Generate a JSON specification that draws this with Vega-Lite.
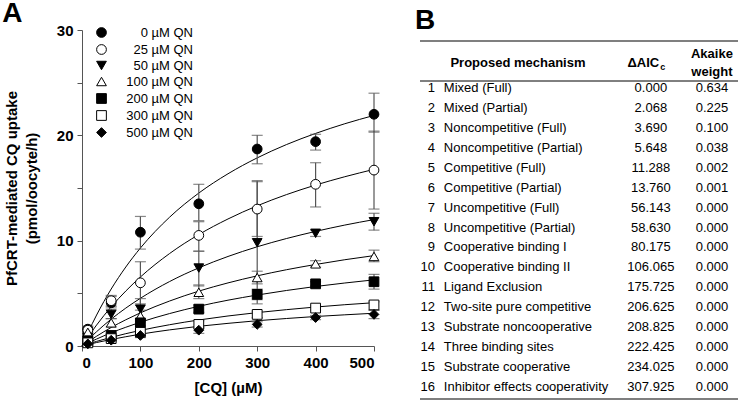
{
  "$schema": "https://vega.github.io/schema/vega-lite/v6.json",
  "padding": {"left": 2, "top": 0, "right": 0, "bottom": 0},
  "spacing": 34,
  "datasets": {
    "pts": [
      {"x": 10, "qn": "0 µM QN", "y": 1.6, "lo": 1.3, "hi": 1.9},
      {"x": 50, "qn": "0 µM QN", "y": 4.1, "lo": 3.7, "hi": 4.7},
      {"x": 100, "qn": "0 µM QN", "y": 10.8, "lo": 9.2, "hi": 12.3},
      {"x": 200, "qn": "0 µM QN", "y": 13.5, "lo": 11.9, "hi": 15.35},
      {"x": 300, "qn": "0 µM QN", "y": 18.7, "lo": 17.3, "hi": 20.0},
      {"x": 400, "qn": "0 µM QN", "y": 19.4, "lo": 18.6, "hi": 20.1},
      {"x": 500, "qn": "0 µM QN", "y": 22.0, "lo": 20.3, "hi": 24.0},
      {"x": 10, "qn": "25 µM QN", "y": 1.5, "lo": 1.2, "hi": 1.8},
      {"x": 50, "qn": "25 µM QN", "y": 4.3, "lo": 3.8, "hi": 4.8},
      {"x": 100, "qn": "25 µM QN", "y": 6.0, "lo": 4.0, "hi": 8.0},
      {"x": 200, "qn": "25 µM QN", "y": 10.5, "lo": 9.0, "hi": 11.8},
      {"x": 300, "qn": "25 µM QN", "y": 13.0, "lo": 10.4, "hi": 15.6},
      {"x": 400, "qn": "25 µM QN", "y": 15.35, "lo": 13.2, "hi": 17.4},
      {"x": 500, "qn": "25 µM QN", "y": 16.7, "lo": 13.0, "hi": 20.4},
      {"x": 10, "qn": "50 µM QN", "y": 0.8, "lo": 0.6, "hi": 1.0},
      {"x": 50, "qn": "50 µM QN", "y": 3.0, "lo": 2.6, "hi": 3.5},
      {"x": 100, "qn": "50 µM QN", "y": 3.5, "lo": 2.6, "hi": 4.5},
      {"x": 200, "qn": "50 µM QN", "y": 7.4, "lo": 5.7, "hi": 9.0},
      {"x": 300, "qn": "50 µM QN", "y": 9.8, "lo": 4.0, "hi": 15.7},
      {"x": 400, "qn": "50 µM QN", "y": 10.7, "lo": 10.4, "hi": 11.0},
      {"x": 500, "qn": "50 µM QN", "y": 11.8, "lo": 11.0, "hi": 12.6},
      {"x": 10, "qn": "100 µM QN", "y": 1.3, "lo": 1.1, "hi": 1.5},
      {"x": 50, "qn": "100 µM QN", "y": 2.2, "lo": 1.8, "hi": 2.6},
      {"x": 100, "qn": "100 µM QN", "y": 2.85, "lo": 2.3, "hi": 3.4},
      {"x": 200, "qn": "100 µM QN", "y": 5.1, "lo": 4.5, "hi": 5.8},
      {"x": 300, "qn": "100 µM QN", "y": 6.5, "lo": 5.9, "hi": 7.1},
      {"x": 400, "qn": "100 µM QN", "y": 7.8, "lo": 7.5, "hi": 8.1},
      {"x": 500, "qn": "100 µM QN", "y": 8.5, "lo": 8.0, "hi": 9.1},
      {"x": 10, "qn": "200 µM QN", "y": 0.5, "lo": 0.4, "hi": 0.6},
      {"x": 50, "qn": "200 µM QN", "y": 1.0, "lo": 0.8, "hi": 1.2},
      {"x": 100, "qn": "200 µM QN", "y": 2.2, "lo": 1.9, "hi": 2.5},
      {"x": 200, "qn": "200 µM QN", "y": 3.5, "lo": 3.2, "hi": 3.9},
      {"x": 300, "qn": "200 µM QN", "y": 4.9, "lo": 4.4, "hi": 5.4},
      {"x": 400, "qn": "200 µM QN", "y": 5.9, "lo": 5.7, "hi": 6.1},
      {"x": 500, "qn": "200 µM QN", "y": 6.1, "lo": 5.4, "hi": 6.8},
      {"x": 10, "qn": "300 µM QN", "y": 0.3, "lo": 0.2, "hi": 0.4},
      {"x": 50, "qn": "300 µM QN", "y": 0.7, "lo": 0.5, "hi": 0.9},
      {"x": 100, "qn": "300 µM QN", "y": 1.3, "lo": 1.1, "hi": 1.5},
      {"x": 200, "qn": "300 µM QN", "y": 2.05, "lo": 1.7, "hi": 2.4},
      {"x": 300, "qn": "300 µM QN", "y": 3.0, "lo": 2.7, "hi": 3.3},
      {"x": 400, "qn": "300 µM QN", "y": 3.6, "lo": 3.4, "hi": 3.8},
      {"x": 500, "qn": "300 µM QN", "y": 3.9, "lo": 3.4, "hi": 4.2},
      {"x": 10, "qn": "500 µM QN", "y": 0.2, "lo": 0.1, "hi": 0.3},
      {"x": 50, "qn": "500 µM QN", "y": 0.55, "lo": 0.4, "hi": 0.7},
      {"x": 100, "qn": "500 µM QN", "y": 1.0, "lo": 0.8, "hi": 1.2},
      {"x": 200, "qn": "500 µM QN", "y": 1.5, "lo": 1.2, "hi": 1.8},
      {"x": 300, "qn": "500 µM QN", "y": 2.05, "lo": 1.8, "hi": 2.3},
      {"x": 400, "qn": "500 µM QN", "y": 2.7, "lo": 2.5, "hi": 2.9},
      {"x": 500, "qn": "500 µM QN", "y": 3.0, "lo": 2.6, "hi": 3.4}
    ],
    "fit": [
      {"x": 0, "qn": "0 µM QN", "y": 0}, {"x": 10, "qn": "0 µM QN", "y": 1.24}, {"x": 25, "qn": "0 µM QN", "y": 2.94},
      {"x": 50, "qn": "0 µM QN", "y": 5.41}, {"x": 75, "qn": "0 µM QN", "y": 7.5}, {"x": 100, "qn": "0 µM QN", "y": 9.3},
      {"x": 150, "qn": "0 µM QN", "y": 12.23}, {"x": 200, "qn": "0 µM QN", "y": 14.52}, {"x": 250, "qn": "0 µM QN", "y": 16.35},
      {"x": 300, "qn": "0 µM QN", "y": 17.86}, {"x": 350, "qn": "0 µM QN", "y": 19.12}, {"x": 400, "qn": "0 µM QN", "y": 20.18},
      {"x": 450, "qn": "0 µM QN", "y": 21.1}, {"x": 500, "qn": "0 µM QN", "y": 21.89},
      {"x": 0, "qn": "25 µM QN", "y": 0}, {"x": 10, "qn": "25 µM QN", "y": 0.83}, {"x": 25, "qn": "25 µM QN", "y": 1.99},
      {"x": 50, "qn": "25 µM QN", "y": 3.72}, {"x": 75, "qn": "25 µM QN", "y": 5.22}, {"x": 100, "qn": "25 µM QN", "y": 6.55},
      {"x": 150, "qn": "25 µM QN", "y": 8.78}, {"x": 200, "qn": "25 µM QN", "y": 10.58}, {"x": 250, "qn": "25 µM QN", "y": 12.06},
      {"x": 300, "qn": "25 µM QN", "y": 13.31}, {"x": 350, "qn": "25 µM QN", "y": 14.37}, {"x": 400, "qn": "25 µM QN", "y": 15.28},
      {"x": 450, "qn": "25 µM QN", "y": 16.07}, {"x": 500, "qn": "25 µM QN", "y": 16.77},
      {"x": 0, "qn": "50 µM QN", "y": 0}, {"x": 10, "qn": "50 µM QN", "y": 0.57}, {"x": 25, "qn": "50 µM QN", "y": 1.36},
      {"x": 50, "qn": "50 µM QN", "y": 2.55}, {"x": 75, "qn": "50 µM QN", "y": 3.6}, {"x": 100, "qn": "50 µM QN", "y": 4.53},
      {"x": 150, "qn": "50 µM QN", "y": 6.12}, {"x": 200, "qn": "50 µM QN", "y": 7.42}, {"x": 250, "qn": "50 µM QN", "y": 8.5},
      {"x": 300, "qn": "50 µM QN", "y": 9.42}, {"x": 350, "qn": "50 µM QN", "y": 10.2}, {"x": 400, "qn": "50 µM QN", "y": 10.88},
      {"x": 450, "qn": "50 µM QN", "y": 11.48}, {"x": 500, "qn": "50 µM QN", "y": 12.0},
      {"x": 0, "qn": "100 µM QN", "y": 0}, {"x": 10, "qn": "100 µM QN", "y": 0.39}, {"x": 25, "qn": "100 µM QN", "y": 0.93},
      {"x": 50, "qn": "100 µM QN", "y": 1.76}, {"x": 75, "qn": "100 µM QN", "y": 2.49}, {"x": 100, "qn": "100 µM QN", "y": 3.15},
      {"x": 150, "qn": "100 µM QN", "y": 4.27}, {"x": 200, "qn": "100 µM QN", "y": 5.21}, {"x": 250, "qn": "100 µM QN", "y": 5.99},
      {"x": 300, "qn": "100 µM QN", "y": 6.66}, {"x": 350, "qn": "100 µM QN", "y": 7.24}, {"x": 400, "qn": "100 µM QN", "y": 7.74},
      {"x": 450, "qn": "100 µM QN", "y": 8.19}, {"x": 500, "qn": "100 µM QN", "y": 8.58},
      {"x": 0, "qn": "200 µM QN", "y": 0}, {"x": 10, "qn": "200 µM QN", "y": 0.28}, {"x": 25, "qn": "200 µM QN", "y": 0.66},
      {"x": 50, "qn": "200 µM QN", "y": 1.26}, {"x": 75, "qn": "200 µM QN", "y": 1.78}, {"x": 100, "qn": "200 µM QN", "y": 2.26},
      {"x": 150, "qn": "200 µM QN", "y": 3.08}, {"x": 200, "qn": "200 µM QN", "y": 3.77}, {"x": 250, "qn": "200 µM QN", "y": 4.35},
      {"x": 300, "qn": "200 µM QN", "y": 4.84}, {"x": 350, "qn": "200 µM QN", "y": 5.27}, {"x": 400, "qn": "200 µM QN", "y": 5.65},
      {"x": 450, "qn": "200 µM QN", "y": 5.98}, {"x": 500, "qn": "200 µM QN", "y": 6.28},
      {"x": 0, "qn": "300 µM QN", "y": 0}, {"x": 10, "qn": "300 µM QN", "y": 0.18}, {"x": 25, "qn": "300 µM QN", "y": 0.44},
      {"x": 50, "qn": "300 µM QN", "y": 0.82}, {"x": 75, "qn": "300 µM QN", "y": 1.17}, {"x": 100, "qn": "300 µM QN", "y": 1.48},
      {"x": 150, "qn": "300 µM QN", "y": 2.02}, {"x": 200, "qn": "300 µM QN", "y": 2.47}, {"x": 250, "qn": "300 µM QN", "y": 2.85},
      {"x": 300, "qn": "300 µM QN", "y": 3.17}, {"x": 350, "qn": "300 µM QN", "y": 3.45}, {"x": 400, "qn": "300 µM QN", "y": 3.7},
      {"x": 450, "qn": "300 µM QN", "y": 3.92}, {"x": 500, "qn": "300 µM QN", "y": 4.11},
      {"x": 0, "qn": "500 µM QN", "y": 0}, {"x": 10, "qn": "500 µM QN", "y": 0.14}, {"x": 25, "qn": "500 µM QN", "y": 0.33},
      {"x": 50, "qn": "500 µM QN", "y": 0.62}, {"x": 75, "qn": "500 µM QN", "y": 0.88}, {"x": 100, "qn": "500 µM QN", "y": 1.12},
      {"x": 150, "qn": "500 µM QN", "y": 1.53}, {"x": 200, "qn": "500 µM QN", "y": 1.87}, {"x": 250, "qn": "500 µM QN", "y": 2.15},
      {"x": 300, "qn": "500 µM QN", "y": 2.4}, {"x": 350, "qn": "500 µM QN", "y": 2.61}, {"x": 400, "qn": "500 µM QN", "y": 2.8},
      {"x": 450, "qn": "500 µM QN", "y": 2.96}, {"x": 500, "qn": "500 µM QN", "y": 3.11}
    ],
    "tab": [
      {"n": 1, "mech": "Mixed (Full)", "daic": 0.0, "w": 0.634},
      {"n": 2, "mech": "Mixed (Partial)", "daic": 2.068, "w": 0.225},
      {"n": 3, "mech": "Noncompetitive (Full)", "daic": 3.69, "w": 0.1},
      {"n": 4, "mech": "Noncompetitive (Partial)", "daic": 5.648, "w": 0.038},
      {"n": 5, "mech": "Competitive (Full)", "daic": 11.288, "w": 0.002},
      {"n": 6, "mech": "Competitive (Partial)", "daic": 13.76, "w": 0.001},
      {"n": 7, "mech": "Uncompetitive (Full)", "daic": 56.143, "w": 0.0},
      {"n": 8, "mech": "Uncompetitive (Partial)", "daic": 58.63, "w": 0.0},
      {"n": 9, "mech": "Cooperative binding I", "daic": 80.175, "w": 0.0},
      {"n": 10, "mech": "Cooperative binding II", "daic": 106.065, "w": 0.0},
      {"n": 11, "mech": "Ligand Exclusion", "daic": 175.725, "w": 0.0},
      {"n": 12, "mech": "Two-site pure competitive", "daic": 206.625, "w": 0.0},
      {"n": 13, "mech": "Substrate noncooperative", "daic": 208.825, "w": 0.0},
      {"n": 14, "mech": "Three binding sites", "daic": 222.425, "w": 0.0},
      {"n": 15, "mech": "Substrate cooperative", "daic": 234.025, "w": 0.0},
      {"n": 16, "mech": "Inhibitor effects cooperativity", "daic": 307.925, "w": 0.0}
    ]
  },
  "hconcat": [
    {
      "width": 292,
      "height": 316,
      "title": {"text": "A", "anchor": "start", "frame": "bounds", "fontSize": 28, "fontWeight": "bold", "offset": -5, "dx": -2},
      "layer": [
        {
          "data": {"name": "fit"},
          "mark": {"type": "line", "color": "black", "strokeWidth": 1, "interpolate": "monotone"},
          "encoding": {
            "x": {"field": "x", "type": "quantitative"},
            "y": {"field": "y", "type": "quantitative"},
            "detail": {"field": "qn"}
          }
        },
        {
          "data": {"name": "pts"},
          "mark": {"type": "rule", "color": "#555", "strokeWidth": 1.2},
          "encoding": {
            "x": {"field": "x", "type": "quantitative"},
            "y": {"field": "lo", "type": "quantitative"},
            "y2": {"field": "hi"}
          }
        },
        {
          "data": {"name": "pts"},
          "mark": {"type": "tick", "orient": "horizontal", "color": "#555", "size": 11, "thickness": 1.2},
          "encoding": {
            "x": {"field": "x", "type": "quantitative"},
            "y": {"field": "lo", "type": "quantitative"}
          }
        },
        {
          "data": {"name": "pts"},
          "mark": {"type": "tick", "orient": "horizontal", "color": "#555", "size": 11, "thickness": 1.2},
          "encoding": {
            "x": {"field": "x", "type": "quantitative"},
            "y": {"field": "hi", "type": "quantitative"}
          }
        },
        {
          "data": {"name": "pts"},
          "mark": {"type": "point", "filled": true, "strokeWidth": 1, "size": 95, "opacity": 1},
          "encoding": {
            "x": {
              "field": "x", "type": "quantitative",
              "scale": {"domain": [0, 500], "nice": false},
              "axis": {"title": "[CQ] (µM)", "values": [0, 50, 100, 150, 200, 250, 300, 350, 400, 450, 500], "labelExpr": "datum.value % 100 == 0 ? datum.label : ''", "titlePadding": 10}
            },
            "y": {
              "field": "y", "type": "quantitative",
              "scale": {"domain": [0, 30], "nice": false},
              "axis": {"title": ["PfCRT-mediated CQ uptake", "(pmol/oocyte/h)"], "values": [0, 5, 10, 15, 20, 25, 30], "labelExpr": "datum.value % 10 == 0 ? datum.label : ''", "titlePadding": 17, "titleLineHeight": 20}
            },
            "shape": {
              "field": "qn", "type": "nominal",
              "scale": {"domain": ["0 µM QN", "25 µM QN", "50 µM QN", "100 µM QN", "200 µM QN", "300 µM QN", "500 µM QN"], "range": ["circle", "circle", "triangle-down", "triangle-up", "square", "square", "diamond"]},
              "legend": {"title": null, "orient": "none", "legendX": 13, "legendY": -4, "labelAlign": "right"}
            },
            "fill": {
              "field": "qn", "type": "nominal",
              "scale": {"domain": ["0 µM QN", "25 µM QN", "50 µM QN", "100 µM QN", "200 µM QN", "300 µM QN", "500 µM QN"], "range": ["black", "white", "black", "white", "black", "white", "black"]}
            },
            "stroke": {
              "field": "qn", "type": "nominal",
              "scale": {"domain": ["0 µM QN", "25 µM QN", "50 µM QN", "100 µM QN", "200 µM QN", "300 µM QN", "500 µM QN"], "range": ["black", "black", "black", "black", "black", "black", "black"]}
            }
          }
        }
      ]
    },
    {
      "width": 318,
      "height": 372,
      "title": {"text": "B", "anchor": "start", "frame": "group", "fontSize": 28, "fontWeight": "bold", "offset": -5, "dx": -5},
      "layer": [
        {
          "data": {"values": [{}]},
          "mark": {"type": "rule", "color": "#555", "strokeWidth": 1.6},
          "encoding": {
            "x": {"datum": 0, "type": "quantitative", "scale": {"domain": [0, 100]}, "axis": null},
            "x2": {"datum": 100},
            "y": {"datum": -1.358, "type": "quantitative", "scale": {"domain": [-1.91, 16.755], "reverse": true, "nice": false, "zero": false}, "axis": null}
          }
        },
        {
          "data": {"values": [{}]},
          "mark": {"type": "rule", "color": "black", "strokeWidth": 1},
          "encoding": {
            "x": {"datum": 0, "type": "quantitative", "axis": null},
            "x2": {"datum": 100},
            "y": {"datum": 0.649, "type": "quantitative", "axis": null}
          }
        },
        {
          "data": {"values": [{}]},
          "mark": {"type": "rule", "color": "#555", "strokeWidth": 1.6},
          "encoding": {
            "x": {"datum": 0, "type": "quantitative", "axis": null},
            "x2": {"datum": 100},
            "y": {"datum": 16.604, "type": "quantitative", "axis": null}
          }
        },
        {
          "data": {"values": [{}]},
          "mark": {"type": "text", "fontSize": 13, "fontWeight": "bold", "align": "center", "baseline": "middle"},
          "encoding": {
            "x": {"datum": 30.8, "type": "quantitative", "axis": null},
            "y": {"datum": -0.254, "type": "quantitative", "axis": null},
            "text": {"value": "Proposed mechanism"}
          }
        },
        {
          "data": {"values": [{}]},
          "mark": {"type": "text", "fontSize": 13, "fontWeight": "bold", "align": "right", "baseline": "middle"},
          "encoding": {
            "x": {"datum": 75.2, "type": "quantitative", "axis": null},
            "y": {"datum": -0.254, "type": "quantitative", "axis": null},
            "text": {"value": "ΔAIC"}
          }
        },
        {
          "data": {"values": [{}]},
          "mark": {"type": "text", "fontSize": 9, "fontWeight": "bold", "align": "left", "baseline": "middle", "dx": 1},
          "encoding": {
            "x": {"datum": 75.2, "type": "quantitative", "axis": null},
            "y": {"datum": -0.05, "type": "quantitative", "axis": null},
            "text": {"value": "c"}
          }
        },
        {
          "data": {"values": [{}]},
          "mark": {"type": "text", "fontSize": 13, "fontWeight": "bold", "align": "center", "baseline": "middle"},
          "encoding": {
            "x": {"datum": 91.8, "type": "quantitative", "axis": null},
            "y": {"datum": -0.706, "type": "quantitative", "axis": null},
            "text": {"value": "Akaike"}
          }
        },
        {
          "data": {"values": [{}]},
          "mark": {"type": "text", "fontSize": 13, "fontWeight": "bold", "align": "center", "baseline": "middle"},
          "encoding": {
            "x": {"datum": 91.8, "type": "quantitative", "axis": null},
            "y": {"datum": 0.197, "type": "quantitative", "axis": null},
            "text": {"value": "weight"}
          }
        },
        {
          "data": {"name": "tab"},
          "mark": {"type": "text", "fontSize": 13, "align": "right", "baseline": "middle"},
          "encoding": {
            "x": {"datum": 4.7, "type": "quantitative", "axis": null},
            "y": {"field": "n", "type": "quantitative", "axis": null},
            "text": {"field": "n"}
          }
        },
        {
          "data": {"name": "tab"},
          "mark": {"type": "text", "fontSize": 13, "align": "left", "baseline": "middle"},
          "encoding": {
            "x": {"datum": 7.5, "type": "quantitative", "axis": null},
            "y": {"field": "n", "type": "quantitative", "axis": null},
            "text": {"field": "mech"}
          }
        },
        {
          "data": {"name": "tab"},
          "mark": {"type": "text", "fontSize": 13, "align": "center", "baseline": "middle"},
          "encoding": {
            "x": {"datum": 72.6, "type": "quantitative", "axis": null},
            "y": {"field": "n", "type": "quantitative", "axis": null},
            "text": {"field": "daic", "format": ".3f"}
          }
        },
        {
          "data": {"name": "tab"},
          "mark": {"type": "text", "fontSize": 13, "align": "center", "baseline": "middle"},
          "encoding": {
            "x": {"datum": 91.8, "type": "quantitative", "axis": null},
            "y": {"field": "n", "type": "quantitative", "axis": null},
            "text": {"field": "w", "format": ".3f"}
          }
        }
      ]
    }
  ],
  "config": {
    "font": "Liberation Sans",
    "view": {"stroke": null},
    "axis": {
      "grid": false,
      "domainColor": "#555",
      "tickColor": "#555",
      "tickSize": 5,
      "labelColor": "black",
      "labelFontSize": 15,
      "labelFontWeight": "bold",
      "labelPadding": 4,
      "titleColor": "black",
      "titleFontSize": 15,
      "titleFontWeight": "bold"
    },
    "legend": {
      "labelFontSize": 13,
      "labelColor": "black",
      "labelAlign": "right",
      "labelOffset": 85,
      "symbolSize": 95,
      "symbolStrokeWidth": 1,
      "rowPadding": 2
    },
    "title": {"color": "black"}
  }
}
